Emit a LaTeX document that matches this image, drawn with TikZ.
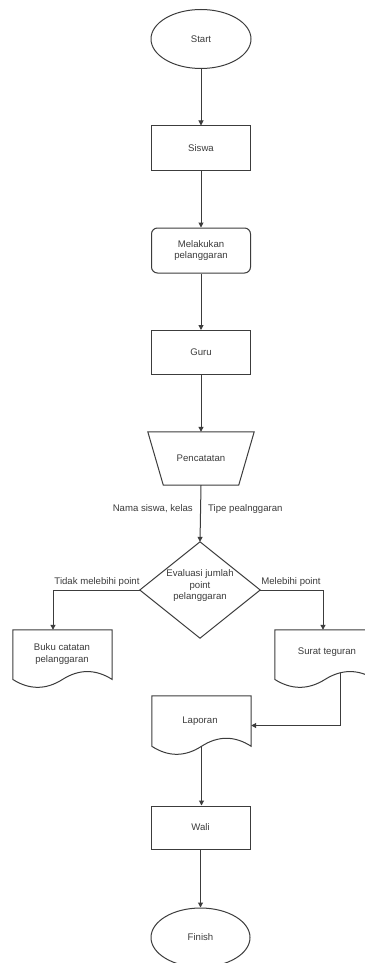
\documentclass[tikz,border=0pt]{standalone}
\usepackage{fontspec}
\setmainfont{Liberation Sans}
\usetikzlibrary{shapes.geometric,arrows.meta,calc}
\definecolor{ink}{RGB}{60,60,60}
\newcommand\drawdoc[1]{%
  \draw[ln] let \p1=(#1.north west), \p2=(#1.south east), \n1={\x2-\x1}, \n2={0.3*(\y1-\y2)} in
  (\p1) -- (\x2,\y1) -- (\x2,\y2+0.5*\n2)
  .. controls (\x1+5/6*\n1,\y2+1.1*\n2) and (\x1+2/3*\n1,\y2+1.1*\n2) .. (\x1+0.5*\n1,\y2+0.5*\n2)
  .. controls (\x1+1/3*\n1,\y2-0.1*\n2) and (\x1+1/6*\n1,\y2-0.1*\n2) .. (\x1,\y2+0.5*\n2) -- cycle;}
\tikzset{
  every node/.style={font=\fontsize{9.6}{11.5}\selectfont, text=ink},
  ln/.style={draw=ink, line width=1pt},
  arr/.style={ln, -{Triangle[length=5pt,width=5pt]}},
  boxr/.style={ln, rectangle, minimum width=99pt, inner sep=0pt, align=center},
  term/.style={ln, ellipse, minimum width=100pt, minimum height=59pt, inner sep=0pt},
  shell/.style={rectangle, inner sep=0pt},
  lbl/.style={inner sep=1pt}
}
\begin{document}
\begin{tikzpicture}[x=1pt,y=-1pt]
\useasboundingbox[fill=white] (0,0) rectangle (364,963);
% nodes
\node[term] (start) at (201,39) {Start};
\node[boxr, minimum height=44pt] (siswa) at (201,148) {Siswa};
\node[boxr, minimum height=45pt, rounded corners=6pt] (mel) at (201,250.5) {Melakukan\\pelanggaran};
\node[boxr, minimum height=44pt] (guru) at (201,352.5) {Guru};
% trapezoid
\node[shell, minimum width=106pt, minimum height=53pt] (pc) at (201,458.5) {};
\draw[ln] (pc.north west) -- (pc.north east) -- ([xshift=-15.5pt]pc.south east) -- ([xshift=15.5pt]pc.south west) -- cycle;
\node (pct) at (pc.center) {Pencatatan};
% diamond
\node[shell, minimum width=120pt, minimum height=96pt] (dia) at (200,590) {};
\draw[ln] (dia.north) -- (dia.east) -- (dia.south) -- (dia.west) -- cycle;
\node[align=center, inner sep=0pt] (diat) at (200,586) {Evaluasi jumlah\\point\\pelanggaran};
% documents
\node[shell, minimum width=99pt, minimum height=58pt] (buku) at (62.5,659) {};
\drawdoc{buku}
\node[align=center, inner sep=0pt] (bukut) at (62,654) {Buku catatan\\pelanggaran};
\node[shell, minimum width=100pt, minimum height=58pt] (sur) at (325,659) {};
\drawdoc{sur}
\node (surt) at (327,652) {Surat teguran};
\node[shell, minimum width=99pt, minimum height=59pt] (lap) at (201.5,725.5) {};
\drawdoc{lap}
\node (lapt) at (200,721) {Laporan};
\node[boxr, minimum height=43pt] (wali) at (200.5,827.5) {Wali};
\node[term, minimum width=99pt] (fin) at (200.5,937.5) {Finish};
% labels
\node[lbl, anchor=east] (l1) at (194,509) {Nama siswa, kelas};
\node[lbl, anchor=west] (l2) at (207,509) {Tipe pealnggaran};
\node[lbl] (l3) at (97,582) {Tidak melebihi point};
\node[lbl] (l4) at (291,582) {Melebihi point};
% coordinates
\coordinate (lt) at (53,590);
\coordinate (rt) at (323,590);
\coordinate (sout) at (340,673);
\coordinate (lapout) at (201.5,746);
% edges
\draw[arr] (start) -- (siswa);
\draw[arr] (siswa) -- (mel);
\draw[arr] (mel) -- (guru);
\draw[arr] (guru) -- (pc.north);
\draw[arr] (pc.south) -- (dia.north);
\draw[arr] (dia.west) -- (lt) -- (lt |- buku.north);
\draw[arr] (dia.east) -- (rt) -- (rt |- sur.north);
\draw[arr] (sout) |- (lap.east);
\draw[arr] (lapout) -- (wali.north -| lapout);
\draw[arr] (wali) -- (fin);
\end{tikzpicture}
\end{document}
